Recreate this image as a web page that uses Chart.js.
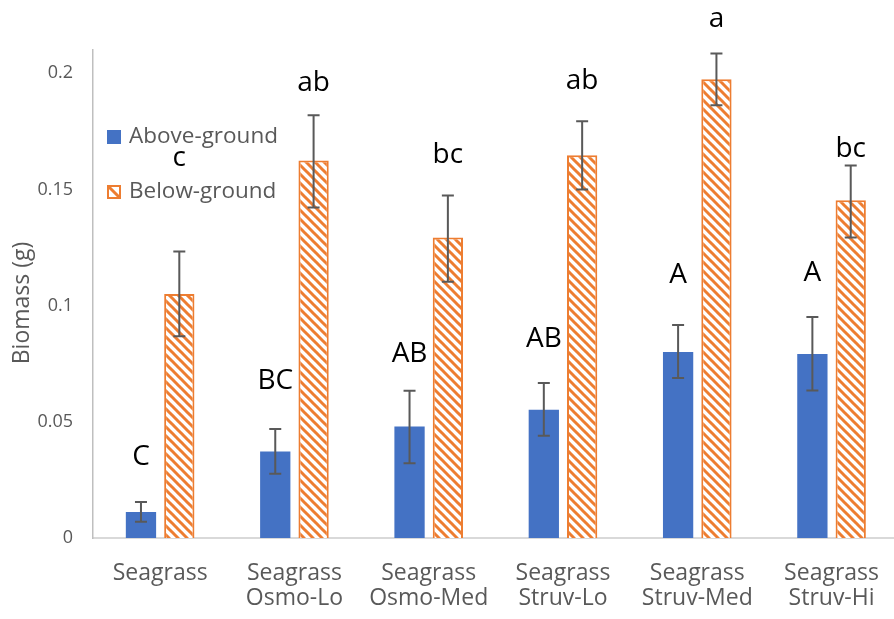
<!DOCTYPE html>
<html>
<head>
<meta charset="utf-8">
<script src="https://cdn.jsdelivr.net/npm/chart.js@4.4.1/dist/chart.umd.min.js"></script>
<style>
  html, body { margin: 0; padding: 0; background: #fff; overflow: hidden; }
</style>
</head>
<body>
<canvas id="chart" width="902" height="619"></canvas>
<script>
const categories = [
  ['Seagrass'],
  ['Seagrass', 'Osmo-Lo'],
  ['Seagrass', 'Osmo-Med'],
  ['Seagrass', 'Struv-Lo'],
  ['Seagrass', 'Struv-Med'],
  ['Seagrass', 'Struv-Hi']
];
const aboveGround = [0.0112, 0.0372, 0.048, 0.0552, 0.080, 0.0792];
const aboveHigh = [0.0155, 0.0469, 0.0634, 0.0667, 0.0917, 0.0951];
const aboveLow = [0.0070, 0.0276, 0.0322, 0.0440, 0.0688, 0.0635];
const belowGround = [0.105, 0.1625, 0.1293, 0.1647, 0.1974, 0.1453];
const belowHigh = [0.1233, 0.1819, 0.1474, 0.1793, 0.2085, 0.1603];
const belowLow = [0.0868, 0.1422, 0.1103, 0.150, 0.1862, 0.1293];
const aboveLetters = ['C', 'BC', 'AB', 'AB', 'A', 'A'];
const belowLetters = ['c', 'ab', 'bc', 'ab', 'a', 'bc'];
const yTicks = [0, 0.05, 0.1, 0.15, 0.2];

const blue = '#4472C4';
const orange = '#ED7D31';
const textGrey = '#595959';
const font = '"Open Sans", sans-serif';

// pixel gap between error bar cap and letter baseline (letters were hand placed)
const aboveGap = [37, 40, 29, 36, 42, 36];
const belowGap = [85, 24, 32, 32, 26, 8];

// diagonal hatch for the below-ground bars
const makeHatch = () => {
  const size = 9;
  const tile = document.createElement('canvas');
  tile.width = size;
  tile.height = size;
  const t = tile.getContext('2d');
  t.fillStyle = '#fff';
  t.fillRect(0, 0, size, size);
  t.strokeStyle = orange;
  t.lineWidth = 3;
  [-size, 0, size].forEach(c => {
    t.beginPath();
    t.moveTo(-1, c - 1);
    t.lineTo(size + 1, c + size + 1);
    t.stroke();
  });
  return t.createPattern(tile, 'repeat');
}

const ctx = document.querySelector('#chart').getContext('2d');
const hatch = makeHatch();

const errorBars = {
  id: 'errorBars',
  afterDatasetsDraw(chart) {
    const c = chart.ctx;
    const y = chart.scales.y;
    const ranges = [[aboveLow, aboveHigh], [belowLow, belowHigh]];
    const letters = [aboveLetters, belowLetters];
    const gaps = [aboveGap, belowGap];
    c.save();
    chart.data.datasets.forEach((ds, i) => {
      chart.getDatasetMeta(i).data.forEach((bar, j) => {
        const top = y.getPixelForValue(ranges[i][1][j]);
        const bottom = y.getPixelForValue(ranges[i][0][j]);
        c.strokeStyle = textGrey;
        c.lineWidth = 2;
        c.beginPath();
        c.moveTo(bar.x, top);
        c.lineTo(bar.x, bottom);
        c.moveTo(bar.x - 6, top);
        c.lineTo(bar.x + 6, top);
        c.moveTo(bar.x - 6, bottom);
        c.lineTo(bar.x + 6, bottom);
        c.stroke();
        c.fillStyle = '#000';
        c.font = '28px ' + font;
        c.textAlign = 'center';
        c.textBaseline = 'alphabetic';
        c.fillText(letters[i][j], bar.x, top - gaps[i][j]);
      })
    })
    c.restore();
  }
}

const insideLegend = {
  id: 'insideLegend',
  afterDraw(chart) {
    const c = chart.ctx;
    const left = chart.chartArea.left + 14;
    const rows = [137, 192];
    c.save();
    c.font = '22.5px ' + font;
    c.textBaseline = 'middle';
    c.textAlign = 'left';
    chart.data.datasets.forEach((ds, i) => {
      const cy = rows[i];
      if (i === 0) {
        c.fillStyle = blue;
        c.fillRect(left, cy - 7, 14, 14);
      } else {
        c.fillStyle = '#fff';
        c.fillRect(left, cy - 7, 14, 14);
        c.strokeStyle = orange;
        c.lineWidth = 2;
        c.strokeRect(left + 1, cy - 6, 12, 12);
        c.beginPath();
        c.moveTo(left + 1, cy - 6);
        c.lineTo(left + 13, cy + 6);
        c.lineWidth = 3;
        c.stroke();
      }
      c.fillStyle = textGrey;
      c.fillText(ds.label, left + 22, cy);
    })

    // y axis title
    c.translate(22, 303);
    c.rotate(-Math.PI / 2);
    c.font = '23px ' + font;
    c.textAlign = 'center';
    c.fillText('Biomass (g)', 0, 0);
    c.restore();
  }
}

new Chart(ctx, {
  type: 'bar',
  data: {
    labels: categories,
    datasets: [
      {
        label: 'Above-ground',
        data: aboveGround,
        backgroundColor: blue,
        borderWidth: 0,
        categoryPercentage: 0.571,
        barPercentage: 0.79
      },
      {
        label: 'Below-ground',
        data: belowGround,
        backgroundColor: hatch,
        borderColor: orange,
        borderWidth: 2,
        categoryPercentage: 0.571,
        barPercentage: 0.79
      }
    ]
  },
  options: {
    responsive: false,
    animation: false,
    layout: { padding: { top: 50, right: 0, left: 0, bottom: 0 } },
    plugins: {
      legend: { display: false },
      tooltip: { enabled: false }
    },
    scales: {
      x: {
        grid: { display: false, drawTicks: false },
        border: { display: true, color: '#d9d9d9', width: 2 },
        ticks: {
          color: textGrey,
          font: { family: font, size: 23, lineHeight: 1.1 },
          padding: 23,
          maxRotation: 0,
          autoSkip: false
        },
        afterFit: scale => { scale.height = 81; }
      },
      y: {
        min: 0,
        max: 0.21,
        grid: { display: false, drawTicks: false },
        border: { display: true, color: '#bfbfbf', width: 1.5 },
        afterBuildTicks: scale => { scale.ticks = yTicks.map(v => ({ value: v })); },
        ticks: {
          color: textGrey,
          font: { family: font, size: 18 },
          padding: 20,
          callback: v => String(v)
        },
        afterFit: scale => { scale.width = 93; }
      }
    }
  },
  plugins: [errorBars, insideLegend]
})
</script>
</body>
</html>
